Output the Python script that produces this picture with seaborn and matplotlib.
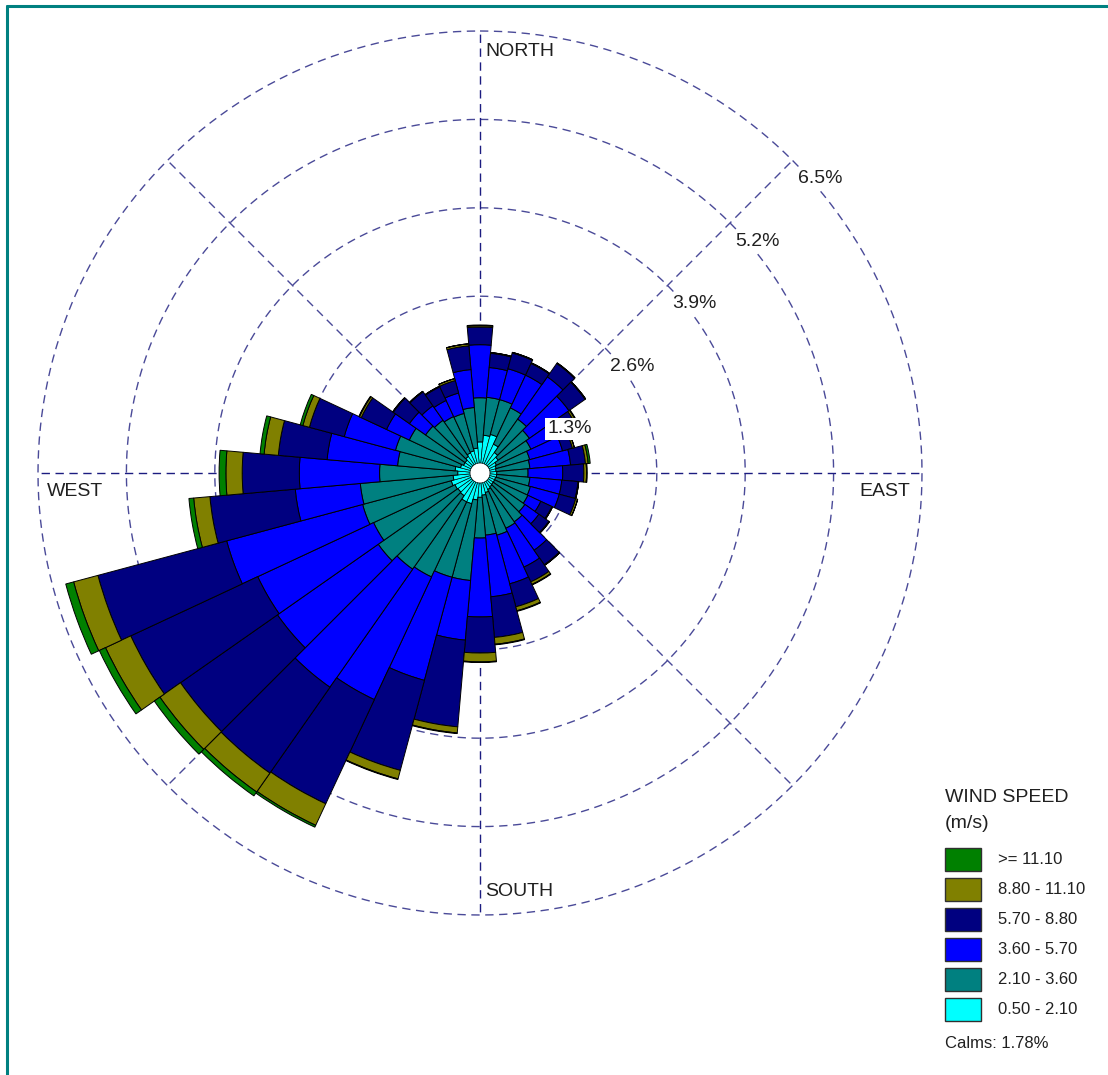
import numpy as np
import pandas as pd
import matplotlib.pyplot as plt
import seaborn as sns
from matplotlib.lines import Line2D
from matplotlib.patches import Rectangle

sns.set_theme(style="white")
plt.rcParams['font.family'] = ['Liberation Sans', 'DejaVu Sans']

# --- wind rose data: frequency (%) per 10 degree sector and speed class ---
directions = np.arange(0, 360, 10)
calms_pct = 1.78
calm_radius = 0.147   # white hole in the middle

ws_0_50 = [0.31, 0.41, 0.44, 0.32, 0.22, 0.18, 0.12, 0.10, 0.09, 0.10, 0.10, 0.09,
           0.09, 0.09, 0.10, 0.12, 0.15, 0.18, 0.21, 0.25, 0.32, 0.32, 0.26, 0.25,
           0.26, 0.29, 0.25, 0.18, 0.22, 0.15, 0.12, 0.12, 0.15, 0.18, 0.19, 0.22]
ws_2_10 = [0.65, 0.56, 0.53, 0.59, 0.60, 0.56, 0.56, 0.51, 0.50, 0.46, 0.49, 0.53,
           0.54, 0.57, 0.63, 0.63, 0.65, 0.59, 0.60, 1.19, 1.12, 1.22, 1.32, 1.43,
           1.32, 1.35, 1.37, 1.15, 0.85, 0.99, 0.88, 0.71, 0.65, 0.59, 0.57, 0.60]
ws_3_60 = [0.78, 0.44, 0.47, 0.53, 0.76, 0.71, 0.44, 0.50, 0.60, 0.51, 0.47, 0.44,
           0.21, 0.25, 0.51, 0.63, 0.74, 0.91, 1.16, 0.88, 1.57, 1.99, 2.12, 1.81,
           1.88, 2.07, 0.96, 1.18, 1.04, 0.78, 0.37, 0.29, 0.26, 0.26, 0.31, 0.56]
ws_5_70 = [0.26, 0.21, 0.24, 0.19, 0.24, 0.29, 0.31, 0.15, 0.22, 0.31, 0.24, 0.25,
           0.18, 0.18, 0.26, 0.24, 0.35, 0.60, 0.53, 1.28, 1.37, 1.69, 1.54, 1.74,
           2.06, 1.96, 1.26, 0.84, 0.72, 0.53, 0.41, 0.29, 0.25, 0.22, 0.19, 0.35]
ws_8_80 = [0.02, 0.01, 0.01, 0.01, 0.01, 0.01, 0.03, 0.03, 0.04, 0.04, 0.01, 0.03,
           0.01, 0.01, 0.01, 0.04, 0.06, 0.10, 0.13, 0.09, 0.13, 0.35, 0.34, 0.37,
           0.41, 0.37, 0.24, 0.24, 0.21, 0.10, 0.03, 0.01, 0.01, 0.01, 0.03, 0.03]
ws_11_10 = [0.01, 0.00, 0.00, 0.00, 0.00, 0.00, 0.01, 0.00, 0.03, 0.01, 0.00, 0.00,
            0.00, 0.00, 0.00, 0.01, 0.01, 0.01, 0.01, 0.01, 0.01, 0.03, 0.07, 0.10,
            0.10, 0.12, 0.07, 0.10, 0.06, 0.04, 0.01, 0.00, 0.00, 0.00, 0.00, 0.00]

speed_labels = ['0.50 - 2.10', '2.10 - 3.60', '3.60 - 5.70',
                '5.70 - 8.80', '8.80 - 11.10', '>= 11.10']
speed_colors = ['#00ffff', '#008080', '#0000ff', '#000080', '#808000', '#008000']

ring_values = [1.3, 2.6, 3.9, 5.2, 6.5]
rmax = 6.5

df = pd.DataFrame({'dir': directions, speed_labels[0]: ws_0_50, speed_labels[1]: ws_2_10,
                   speed_labels[2]: ws_3_60, speed_labels[3]: ws_5_70,
                   speed_labels[4]: ws_8_80, speed_labels[5]: ws_11_10})

W, H = 1108, 1075
fig = plt.figure(figsize=(W / 100, H / 100), dpi=100)


def fx(x):
    return x / W


def fy(y):
    return 1 - y / H


# polar axes: centre at (480, 473) px, 6.5% ring radius 442 px
cx, cy, R = 480, 473, 442
ax = fig.add_axes([fx(cx - R), fy(cy + R), 2 * R / W, 2 * R / H], projection='polar')
ax.set_theta_zero_location('N')
ax.set_theta_direction(-1)
ax.set_ylim(0, rmax)
ax.set_axis_off()

grid_col = '#4a4a98'
theta = np.linspace(0, 2 * np.pi, 721)
for r in ring_values:
    ax.plot(theta, np.full_like(theta, r), color=grid_col, lw=1.0,
            ls=(0, (6, 4)), zorder=1, clip_on=False)
for a in range(0, 360, 45):
    col = '#1c1c80' if a % 90 == 0 else grid_col
    ax.plot([np.deg2rad(a)] * 2, [0, rmax], color=col, lw=1.0,
            ls=(0, (6, 4)), zorder=1, clip_on=False)

# calm circle stays white
ax.fill_between(theta, 0, calm_radius, color='white', zorder=2)

# stacked sectors
width = np.deg2rad(10)
bottom = np.full(len(df), calm_radius)
for lab, col in zip(speed_labels, speed_colors):
    lw = 0.45 if lab == speed_labels[0] else 0.7
    ax.bar(np.deg2rad(df['dir']), df[lab], width=width, bottom=bottom,
           color=col, edgecolor='black', linewidth=lw, label=lab, zorder=3)
    bottom = bottom + df[lab].values

# ring labels along the NE diagonal
for r in ring_values:
    ax.annotate(f'{r}%', xy=(np.deg2rad(45), r), xytext=(5, -10),
                textcoords='offset pixels', ha='left', va='top', fontsize=14,
                color='#202020', zorder=6,
                bbox=dict(fc='white', ec='none', pad=1.5))

# compass labels
txt = dict(fontsize=14, va='center', color='#202020')
fig.text(fx(485), fy(52), 'NORTH', ha='left', **txt)
fig.text(fx(910), fy(492), 'EAST', ha='right', **txt)
fig.text(fx(47), fy(492), 'WEST', ha='left', **txt)
fig.text(fx(485), fy(892), 'SOUTH', ha='left', **txt)

# legend (drawn box by box, strongest class on top)
fig.text(fx(945), fy(798), 'WIND SPEED', fontsize=14, ha='left', va='center', color='#202020')
fig.text(fx(945), fy(823), '(m/s)', fontsize=14, ha='left', va='center', color='#202020')
for i, (lab, col) in enumerate(zip(speed_labels[::-1], speed_colors[::-1])):
    yc = 859 + 30 * i
    fig.add_artist(Rectangle((fx(945), fy(yc + 11.5)), 36 / W, 23 / H,
                             facecolor=col, edgecolor='#303030', lw=1.0))
    fig.text(fx(998), fy(yc), lab, fontsize=12, ha='left', va='center', color='#202020')
fig.text(fx(945), fy(1043), f'Calms: {calms_pct}%', fontsize=12, ha='left', va='center',
         color='#202020')

# frame line (top and left edges)
fig.add_artist(Line2D([fx(7), fx(7)], [fy(6), 0], color='#008080', lw=2.2))
fig.add_artist(Line2D([fx(7), 1], [fy(6), fy(6)], color='#008080', lw=2.2))

fig.savefig('out.png', dpi=100)
